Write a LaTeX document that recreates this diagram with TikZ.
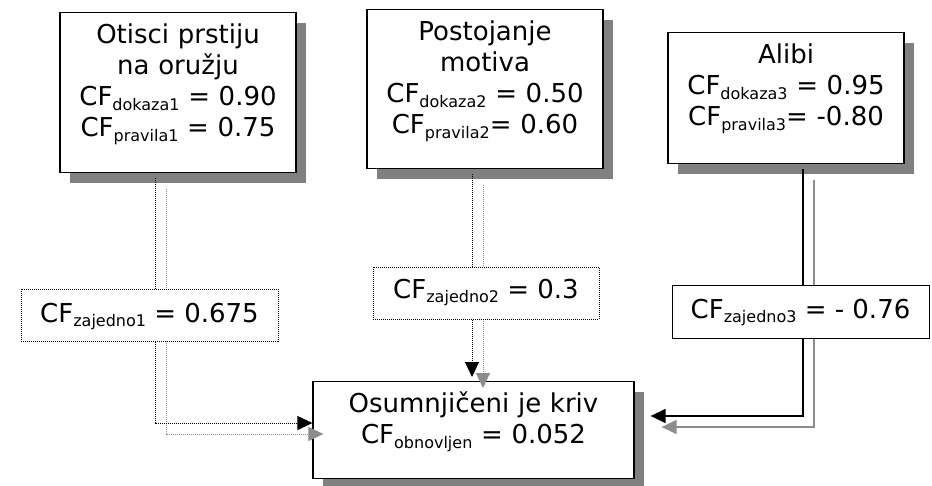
\documentclass[tikz,border=0pt]{standalone}
\usepackage{fontspec}
\setmainfont{DejaVu Sans}
\usetikzlibrary{arrows.meta,shadows}

\newcommand{\cfsub}[1]{\raisebox{-4.5pt}{\fontsize{16pt}{16pt}\selectfont #1}}

\begin{document}
\begin{tikzpicture}[x=1pt,y=-1pt,
  evidence/.style={draw=black,line width=1.2pt,fill=white,anchor=north,
    inner sep=0pt,text width=#1,align=center,text height=31pt,
    font=\fontsize{26pt}{31pt}\selectfont,
    drop shadow={shadow xshift=10pt,shadow yshift=-10pt,fill=black!50,opacity=1}},
  combined/.style={fill=white,inner sep=0pt,minimum width=#1,minimum height=52pt,
    text height=20pt,text depth=6pt,font=\fontsize{26pt}{31pt}\selectfont},
  dotline/.style={line width=1pt,dash pattern=on 1pt off 1pt},
  link/.style={-{Triangle[length=15pt,width=14pt]},shorten <=5pt},
  ghost/.style={black!45,transform canvas={shift={(11pt,-11pt)}}}]

\useasboundingbox (0,0) rectangle (932,485);

\node[evidence=236pt,text depth=129pt] (d1) at (178,12)
  {Otisci prstiju\\na oružju\\CF\cfsub{dokaza1} = 0.90\\CF\cfsub{pravila1} = 0.75};
\node[evidence=236pt,text depth=128pt] (d2) at (485,9)
  {Postojanje\\motiva\\CF\cfsub{dokaza2} = 0.50\\CF\cfsub{pravila2}= 0.60};
\node[evidence=236pt,text depth=100pt] (d3) at (786,32)
  {Alibi\\CF\cfsub{dokaza3} = 0.95\\CF\cfsub{pravila3}= -0.80};
\node[evidence=321pt,text depth=66pt] (kriv) at (473.5,381)
  {Osumnjičeni je kriv\\CF\cfsub{obnovljen} = 0.052};

\coordinate (t1) at (155,423);
\coordinate (t2) at (472,381);
\coordinate (t3) at (803,416);

\draw[link,dotline,ghost] (d1.south -| t1) -- (t1) -- (kriv.west |- t1);
\draw[link,dotline] (d1.south -| t1) -- (t1) -- (kriv.west |- t1);

\draw[link,dotline,ghost,shorten >=4pt] (d2.south -| t2) -- (t2);
\draw[link,dotline,shorten >=4pt] (d2.south -| t2) -- (t2);

\draw[link,line width=1.4pt,ghost,shorten >=16pt] (d3.south -| t3) -- (t3) -- (kriv.east |- t3);
\draw[link,line width=1.4pt,shorten >=16pt] (d3.south -| t3) -- (t3) -- (kriv.east |- t3);

\node[combined=257pt,draw,dotline] (z1) at (149.5,315) {CF\cfsub{zajedno1} = 0.675};
\node[combined=226pt,draw,dotline,text depth=10pt] (z2) at (486,293) {CF\cfsub{zajedno2} = 0.3};
\node[combined=257pt,minimum height=53pt,draw,line width=1pt,text depth=7pt] (z3) at (800.5,311.5) {CF\cfsub{zajedno3} = - 0.76};
\end{tikzpicture}
\end{document}
